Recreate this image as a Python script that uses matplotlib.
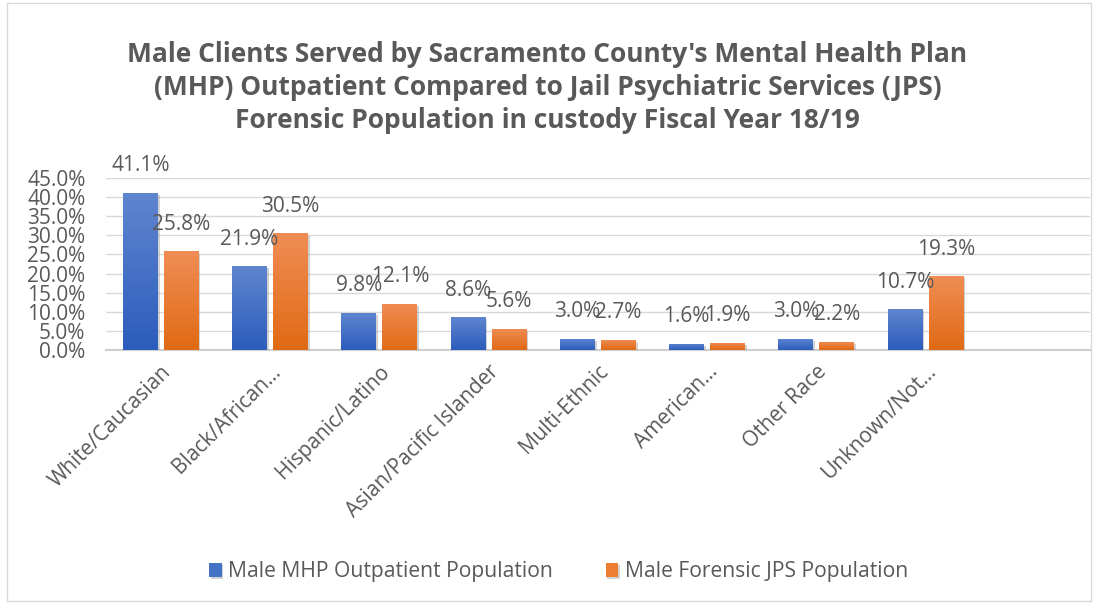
import matplotlib.pyplot as plt
import matplotlib.patheffects as pe
import numpy as np
from matplotlib.colors import LinearSegmentedColormap
from matplotlib.patches import Rectangle

plt.rcParams['font.family'] = ['Open Sans', 'DejaVu Sans']

CATEGORIES = ["White/Caucasian", "Black/African…", "Hispanic/Latino",
              "Asian/Pacific Islander", "Multi-Ethnic", "American…",
              "Other Race", "Unknown/Not…", ""]
MHP = [41.1, 21.9, 9.8, 8.6, 3.0, 1.6, 3.0, 10.7]
JPS = [25.8, 30.5, 12.1, 5.6, 2.7, 1.9, 2.2, 19.3]
SERIES = ["Male MHP Outpatient Population", "Male Forensic JPS Population"]
TITLE = ("Male Clients Served by Sacramento County's Mental Health Plan\n"
         "(MHP) Outpatient Compared to Jail Psychiatric Services (JPS)\n"
         "Forensic Population in custody Fiscal Year 18/19")

BLUE = "#4472c4"
ORANGE = "#ed7d31"
BLUE_GRAD = ("#2c5cbc", "#5f86cf")
ORANGE_GRAD = ("#e06a14", "#f08d55")
TEXT = "#595959"

fig = plt.figure(figsize=(10.95, 6.04), dpi=100)
fig.patches.append(Rectangle((0.006, 0.005), 0.99, 0.99, transform=fig.transFigure,
                             fill=False, edgecolor="#d9d9d9", linewidth=1))
ax = fig.add_axes([0.097, 0.4205, 0.898, 0.2847])

x = np.arange(len(CATEGORIES))
w = 0.32
gap = 0.055
shadow = [pe.SimplePatchShadow(offset=(1.2, -1.5), shadow_rgbFace="#808080", alpha=0.35),
          pe.Normal()]
b1 = ax.bar(x[:len(MHP)] - w / 2 - gap / 2, MHP, w, color=BLUE, label=SERIES[0], zorder=3)
b2 = ax.bar(x[:len(JPS)] + w / 2 + gap / 2, JPS, w, color=ORANGE, label=SERIES[1], zorder=3)

# vertical gradient fill, clipped to each bar
grad = np.linspace(0, 1, 256).reshape(-1, 1)
for bars, cols in ((b1, BLUE_GRAD), (b2, ORANGE_GRAD)):
    cmap = LinearSegmentedColormap.from_list("g", cols)
    for rect in bars:
        rect.set_path_effects(shadow)
        x0, h, bw = rect.get_x(), rect.get_height(), rect.get_width()
        im = ax.imshow(grad, cmap=cmap, aspect="auto", origin="lower",
                       extent=(x0, x0 + bw, 0, h), zorder=3.5)
        im.set_clip_path(rect)

for bars, vals in ((b1, MHP), (b2, JPS)):
    for rect, v in zip(bars, vals):
        ax.annotate(f"{v:.1f}%", (rect.get_x() + rect.get_width() / 2, v),
                    xytext=(0, 19.5), textcoords="offset points",
                    ha="center", va="center", fontsize=15, color=TEXT, zorder=4)

ax.set_xlim(-0.5, len(CATEGORIES) - 0.5)
ax.set_ylim(0, 45)
ax.set_yticks(np.arange(0, 46, 5))
ax.set_yticklabels([f"{t:.1f}%" for t in np.arange(0, 46, 5)])
ax.set_xticks(x)
ax.set_xticklabels(CATEGORIES, rotation=45, ha="right", rotation_mode="anchor")
ax.tick_params(axis="both", length=0, labelsize=15, colors=TEXT)
ax.tick_params(axis="y", pad=15)
ax.tick_params(axis="x", pad=8)
ax.grid(axis="y", color="#d9d9d9", linewidth=1, zorder=0)
for s in ("top", "right", "left"):
    ax.spines[s].set_visible(False)
ax.spines["bottom"].set_color("#cfcfcf")
ax.spines["bottom"].set_linewidth(1.5)

fig.text(0.5, 0.855, TITLE, ha="center", va="center", fontsize=19,
         fontweight="bold", color=TEXT, linespacing=1.3)

fig.legend(handles=[b1, b2], loc="center", bbox_to_anchor=(0.51, 0.053), ncol=2,
           frameon=False, fontsize=15.2, labelcolor=TEXT, handlelength=0.6,
           handleheight=0.6, columnspacing=2.5, handletextpad=0.3)

fig.savefig("out.png", dpi=100)
